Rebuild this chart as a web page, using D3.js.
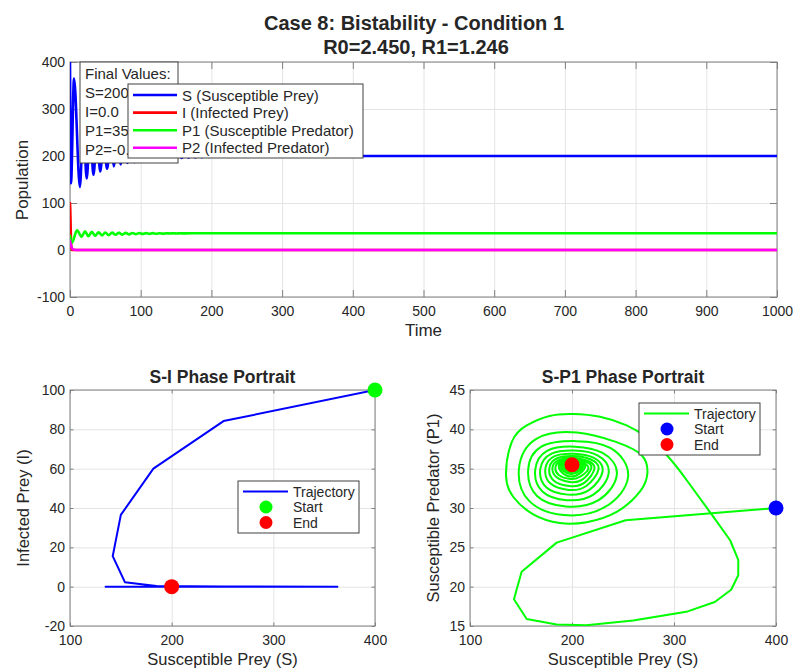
<!DOCTYPE html>
<html>
<head>
<meta charset="utf-8">
<script src="https://cdn.jsdelivr.net/npm/d3@7"></script>
<style>
  body { margin: 0; background: #fff; }
  text { font-family: "Liberation Sans", Arial, Helvetica, sans-serif; fill: #262626; }
</style>
</head>
<body>
<svg id="chart" width="793" height="671"></svg>
<script>
// ---- data ----
// time series [t, value]
const sSeries = [[0,400],[1.4,142],[5.7,365],[14,134],[18.8,274],[23.6,152],[28.4,255],[33.2,160],
  [38,244],[42.8,167],[47.6,236],[52.4,173],[57.2,230],[62,178],[66.8,226],[71.6,182],[76.4,222],
  [81.2,185],[86,219],[90.8,187],[95.6,216],[100.4,189],[105.2,213],[110,191],[114.8,211],[119.6,192.5],
  [124.4,209],[129.2,193.5],[134,207.5],[138.8,194.5],[143.6,206],[148.4,195.5],[153.2,205],[158,196],
  [162.8,204],[167.6,196.5],[172.4,203],[177.2,197],[182,202.5],[186.8,197.5],[191.6,202],[196.4,198],
  [201.2,201.5],[206,198.5],[210.8,201],[215.6,199],[220.4,200.5],[225.2,199.5],[240,200],[1000,200]];
const iSeries = [[0,100],[0.4,84],[0.8,60],[1.1,36.5],[1.5,15.5],[2.2,2.3],[3,0.2],[6,0],[1000,0]];
const p1Series = [[0,30],[2.6,15.1],[10,41.9],[16.4,28.1],[21.2,39.6],[26,29.1],[30.8,38.5],[35.6,30.2],
  [40.4,37.8],[45.2,31],[50,37.3],[54.8,31.7],[59.6,36.9],[64.4,32.3],[69.2,36.6],[74,32.8],[78.8,36.4],
  [83.6,33.3],[88.4,36.2],[93.2,33.7],[98,36.05],[102.8,34],[107.6,35.95],[112.4,34.3],[117.2,35.85],
  [122,34.55],[126.8,35.75],[131.6,34.8],[136.4,35.7],[141.2,35],[146,35.6],[150.8,35.2],[155.6,35.55],
  [160.4,35.35],[170,35.5],[1000,35.5]];
const p2Series = [[0,20],[1,12],[2,6.5],[3.5,2.5],[6,0.6],[10,0.05],[20,0],[1000,0]];

// S-I phase portrait [S, I]
const phaseSI = [[400,100],[251,84.2],[182,60],[150,36.5],[142,15.5],[154,2.3],[185,0.3],[250,0.05],
  [363,0],[135,0],[274,0],[148,0],[255,0],[200,0]];

// S-P1 phase portrait [S, P1]: coarse first sweep, then the spiral into the end point
const outerSP1 = [[400,30],[252.6,28.45],[185,25.6],[150.6,21.9],[143.1,18.4],[155.6,15.9],[185,15.2],
  [214,15.1],[260,15.7],[312,16.8],[340,18.05],[356,19.6],[363,21.45],[363,23.4],[355,25.9],[338.5,28.9]];
const spiralSP1 = [[338.5,28.9],
  [312.7,33.5],[293,36.7],[273,39.0],[253.6,40.5],[227.5,41.6],[201,41.95],[178,41.7],[155.6,40.5],
  [141,38.4],[135.3,34.2],[142.5,31.4],[162,29.2],[188,28.1],[214.4,28.2],[243.8,29.5],[266.7,32.1],
  [273.9,34.4],[268.3,36.7],
  [243,38.4],[205,39.6],[165,38.8],[148,35.0],[158,30.9],[192,29.1],[232,30.1],[255,34.0],
  [238,37.6],[204,38.5],[170,37.8],[157,34.8],[166,31.5],[194,30.2],[226,31.0],[244,34.3],
  [230,37.0],[203,37.8],[176,37.3],[164,34.9],[171,32.1],[195,31.0],[221,31.7],[236,34.5],
  [225,36.7],[202.5,37.3],[180,36.9],[169,35.0],[175,32.6],[196,31.7],[217,32.3],[230,34.7],
  [221,36.4],[202,36.9],[183,36.6],[174,35.1],[179,33.1],[197,32.3],[214,32.8],[226,34.9],
  [218,36.2],[201.5,36.6],[186,36.35],[178,35.2],[182,33.5],[197.5,32.8],[212,33.2],[222,35.0],
  [215,36.0],[201,36.4],[188,36.15],[181,35.25],[185,33.9],[198,33.3],[210,33.6],[219,35.1],
  [213,35.9],[201,36.2],[190,36.0],[184,35.3],[187,34.2],[198.5,33.7],[208,34.0],[216,35.2],
  [200.5,36.05],[187,35.35],[199,34.0],[213,35.3],
  [200.5,35.95],[189,35.4],[199,34.3],[211,35.35],
  [200.3,35.85],[191,35.4],[199.5,34.55],[209,35.4],
  [200.2,35.75],[193,35.45],[199.6,34.8],[207,35.45],
  [200.1,35.7],[195,35.45],[199.8,35.0],[205,35.5],
  [200,35.6],[197,35.5],[199.9,35.2],[203,35.5],[200,35.5]];

const startSI = [400, 100], endSI = [200, 0];
const startSP1 = [400, 30], endSP1 = [200, 35.5];

const seriesNames = ["S (Susceptible Prey)", "I (Infected Prey)", "P1 (Susceptible Predator)", "P2 (Infected Predator)"];
const seriesColors = ["#0000ff", "#ff0000", "#00ff00", "#ff00ff"];
const finalValues = ["Final Values:", "S=200.0", "I=0.0", "P1=35.5", "P2=-0.0"];

const timeTicks = d3.range(0, 1001, 100);
const popTicks = [-100, 0, 100, 200, 300, 400];
const sTicks = [100, 200, 300, 400];
const iTicks = [-20, 0, 20, 40, 60, 80, 100];
const p1Ticks = [15, 20, 25, 30, 35, 40, 45];

const font = '"Liberation Sans", Arial, Helvetica, sans-serif';
const svg = d3.select("#chart");
svg.append("rect").attr("width", 793).attr("height", 671).attr("fill", "#fff");

// sets up one MATLAB-like axes box: grid, inward ticks on all four sides, labels
function makeAxes(id, box, xDom, yDom, xTicks, yTicks, tickLen) {
    const x = d3.scaleLinear().domain(xDom).range([box.left, box.right]);
    const y = d3.scaleLinear().domain(yDom).range([box.bottom, box.top]);
    const w = box.right - box.left, h = box.bottom - box.top;
    const g = svg.append("g");

    svg.append("clipPath").attr("id", id).append("rect")
        .attr("x", box.left).attr("y", box.top).attr("width", w).attr("height", h);

    // grid
    g.append("g").attr("transform", "translate(0," + box.bottom + ")")
        .call(d3.axisBottom(x).tickValues(xTicks).tickSize(-h).tickFormat(""))
        .call(s => s.select(".domain").remove())
        .selectAll("line").attr("stroke", "#e4e4e4");
    g.append("g").attr("transform", "translate(" + box.left + ",0)")
        .call(d3.axisLeft(y).tickValues(yTicks).tickSize(-w).tickFormat(""))
        .call(s => s.select(".domain").remove())
        .selectAll("line").attr("stroke", "#e4e4e4");

    // box
    g.append("rect").attr("x", box.left).attr("y", box.top).attr("width", w).attr("height", h)
        .attr("fill", "none").attr("stroke", "#808080").attr("stroke-width", 1);

    const fmt = d => String(d);
    const bottom = g.append("g").attr("transform", "translate(0," + box.bottom + ")")
        .call(d3.axisBottom(x).tickValues(xTicks).tickSizeInner(-tickLen).tickSizeOuter(0).tickPadding(9).tickFormat(fmt));
    const left = g.append("g").attr("transform", "translate(" + box.left + ",0)")
        .call(d3.axisLeft(y).tickValues(yTicks).tickSizeInner(-tickLen).tickSizeOuter(0).tickPadding(5).tickFormat(fmt));
    const top = g.append("g").attr("transform", "translate(0," + box.top + ")")
        .call(d3.axisTop(x).tickValues(xTicks).tickSize(-tickLen).tickFormat(""));
    const right = g.append("g").attr("transform", "translate(" + box.right + ",0)")
        .call(d3.axisRight(y).tickValues(yTicks).tickSize(-tickLen).tickFormat(""));
    [bottom, left, top, right].forEach(a => {
        a.select(".domain").remove();
        a.selectAll("line").attr("stroke", "#808080");
        a.selectAll("text").attr("font-size", "14px").attr("font-family", font).attr("fill", "#262626");
    });

    return {x: x, y: y, clip: "url(#" + id + ")"};
}

function label(txt, x, y, size, opts) {
    const t = svg.append("text").attr("x", x).attr("y", y).attr("font-size", size)
        .attr("text-anchor", "middle").text(txt);
    if (opts && opts.bold) t.attr("font-weight", "bold");
    if (opts && opts.rotate) t.attr("transform", "rotate(-90," + x + "," + y + ")");
    return t;
}

function drawLine(ax, data, color, width, curve) {
    svg.append("path").datum(data)
        .attr("clip-path", ax.clip)
        .attr("fill", "none").attr("stroke", color).attr("stroke-width", width)
        .attr("stroke-linejoin", "round").attr("stroke-linecap", "round")
        .attr("d", d3.line().x(d => ax.x(d[0])).y(d => ax.y(d[1])).curve(curve));
}

// ---- titles ----
label("Case 8: Bistability - Condition 1", 414, 30, "20px", {bold: true});
label("R0=2.450, R1=1.246", 416, 54, "20px", {bold: true});

// ---- top: time series ----
const axTop = makeAxes("clipTop", {left: 70, right: 777, top: 62, bottom: 297},
    [0, 1000], [-100, 400], timeTicks, popTicks, 7);
drawLine(axTop, sSeries, seriesColors[0], 2.6, d3.curveMonotoneX);
drawLine(axTop, iSeries, seriesColors[1], 2.6, d3.curveMonotoneX);
drawLine(axTop, p1Series, seriesColors[2], 2.6, d3.curveMonotoneX);
drawLine(axTop, p2Series, seriesColors[3], 2.6, d3.curveMonotoneX);
label("Time", 423.5, 336, "17px");
label("Population", 28, 180, "17px", {rotate: true});

// final values text box
svg.append("rect").attr("x", 80).attr("y", 62).attr("width", 98).attr("height", 101)
    .attr("fill", "#fff").attr("stroke", "#404040").attr("stroke-width", 1);
svg.append("g").selectAll("text").data(finalValues).enter().append("text")
    .attr("x", 85).attr("y", (d, i) => 73.5 + i * 18.9)
    .attr("dominant-baseline", "central")
    .attr("font-size", "15px").text(d => d);

// series legend
const lg = svg.append("g");
lg.append("rect").attr("x", 128).attr("y", 84).attr("width", 235).attr("height", 74)
    .attr("fill", "#fff").attr("stroke", "#404040").attr("stroke-width", 1);
seriesNames.forEach((n, i) => {
    const cy = 95 + i * 17.6;
    lg.append("line").attr("x1", 133).attr("x2", 177).attr("y1", cy).attr("y2", cy)
        .attr("stroke", seriesColors[i]).attr("stroke-width", 2.6);
    lg.append("text").attr("x", 182).attr("y", cy).attr("dominant-baseline", "central")
        .attr("font-size", "15px").text(n);
});

// ---- phase portraits ----
function phaseLegend(box, lineColor, startColor, endColor) {
    const g = svg.append("g");
    g.append("rect").attr("x", box.x).attr("y", box.y).attr("width", 121).attr("height", 52)
        .attr("fill", "#fff").attr("stroke", "#404040").attr("stroke-width", 1);
    const rows = [box.y + 10.5, box.y + 26, box.y + 41.5];
    g.append("line").attr("x1", box.x + 5).attr("x2", box.x + 50).attr("y1", rows[0]).attr("y2", rows[0])
        .attr("stroke", lineColor).attr("stroke-width", 2);
    g.append("circle").attr("cx", box.x + 28).attr("cy", rows[1]).attr("r", 6.5).attr("fill", startColor);
    g.append("circle").attr("cx", box.x + 28).attr("cy", rows[2]).attr("r", 6.5).attr("fill", endColor);
    ["Trajectory", "Start", "End"].forEach((t, i) => {
        g.append("text").attr("x", box.x + 55).attr("y", rows[i]).attr("dominant-baseline", "central")
            .attr("font-size", "14px").text(t);
    });
}

function marker(ax, p, color) {
    svg.append("circle").attr("cx", ax.x(p[0])).attr("cy", ax.y(p[1])).attr("r", 7.5).attr("fill", color);
}

const axSI = makeAxes("clipSI", {left: 70, right: 375, top: 390, bottom: 626},
    [100, 400], [-20, 100], sTicks, iTicks, 3.5);
drawLine(axSI, phaseSI, "#0000ff", 2, d3.curveLinear);
marker(axSI, startSI, "#00ff00");
marker(axSI, endSI, "#ff0000");
label("S-I Phase Portrait", 222.5, 383, "17.5px", {bold: true});
label("Susceptible Prey (S)", 222.5, 665, "16.5px");
label("Infected Prey (I)", 29, 508, "16.5px", {rotate: true});
phaseLegend({x: 238, y: 481}, "#0000ff", "#00ff00", "#ff0000");

const axSP = makeAxes("clipSP", {left: 470, right: 776, top: 390, bottom: 626},
    [100, 400], [15, 45], sTicks, p1Ticks, 3.5);
drawLine(axSP, outerSP1, "#00ff00", 2, d3.curveLinear);
drawLine(axSP, spiralSP1, "#00ff00", 2, d3.curveNatural);
marker(axSP, startSP1, "#0000ff");
marker(axSP, endSP1, "#ff0000");
label("S-P1 Phase Portrait", 623, 383, "17.5px", {bold: true});
label("Susceptible Prey (S)", 623, 665, "16.5px");
label("Susceptible Predator (P1)", 439, 508, "16.5px", {rotate: true});
phaseLegend({x: 639, y: 403}, "#00ff00", "#0000ff", "#ff0000");
</script>
</body>
</html>
